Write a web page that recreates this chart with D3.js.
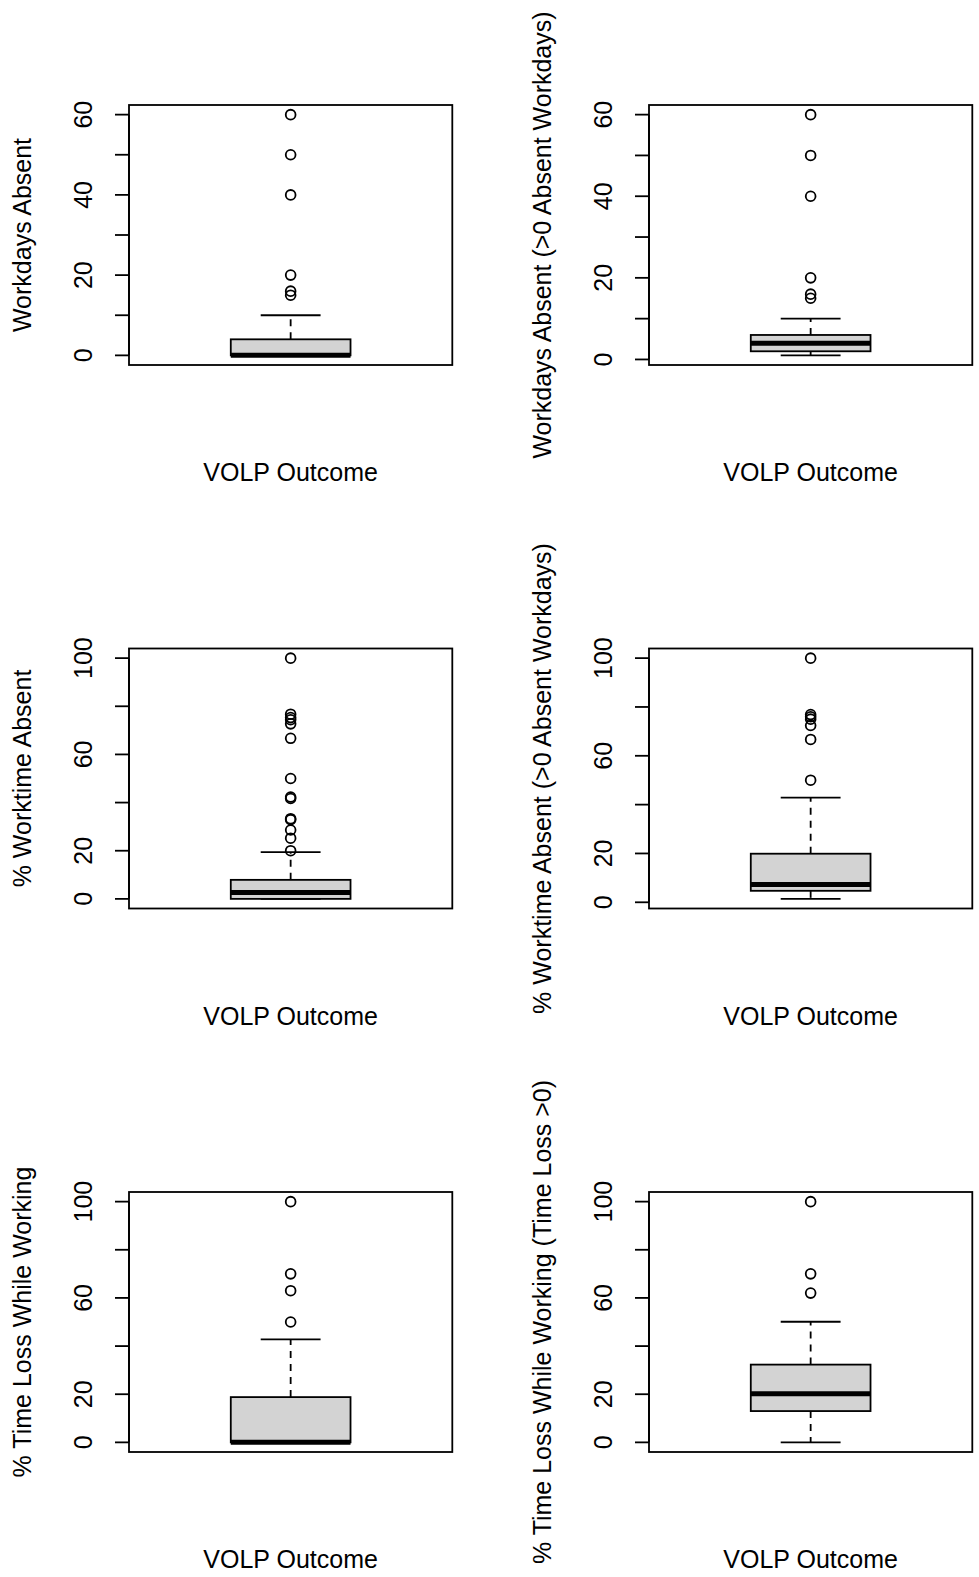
<!DOCTYPE html>
<html>
<head>
<meta charset="utf-8">
<script src="https://cdn.jsdelivr.net/npm/d3@7"></script>
<style>
  html, body { margin: 0; padding: 0; background: #fff; }
  svg { display: block; }
  text { font-family: "Liberation Sans", Arial, sans-serif; fill: #000; }
</style>
</head>
<body>
<svg id="chart" width="979" height="1577"></svg>
<script>
// Six single-box boxplots, laid out 3 rows x 2 columns (row-major).
const yTitles = [
  "Workdays Absent",
  "Workdays Absent (>0 Absent Workdays)",
  "% Worktime Absent",
  "% Worktime Absent (>0 Absent Workdays)",
  "% Time Loss While Working",
  "% Time Loss While Working (Time Loss >0)"
];
const xTitle = "VOLP Outcome";

// Box summaries per panel
const whiskerLow    = [0, 1, 0,   1.4,  0,    0];
const lowerQuartile = [0, 2, 0,   4.7,  0,    13];
const medianValue   = [0, 4, 2.6, 7.3,  0,    20.2];
const upperQuartile = [4, 6, 7.9, 19.9, 18.8, 32.3];
const whiskerHigh   = [10, 10, 19.4, 42.9, 42.8, 50.1];

// Points beyond the whiskers
const outliers = [
  [15, 16, 20, 40, 50, 60],
  [15, 16, 20, 40, 50, 60],
  [20, 25.2, 28.6, 32.9, 33.3, 41.7, 42.3, 50, 66.7, 72.7, 74.4, 75.3, 76.7, 100],
  [50, 66.7, 72.4, 75, 76, 76.9, 100],
  [50, 63, 70, 100],
  [62, 70, 100]
];

// Axis ticks and the subset that carries labels
const tickValues = [
  [0, 10, 20, 30, 40, 50, 60],
  [0, 10, 20, 30, 40, 50, 60],
  [0, 20, 40, 60, 80, 100],
  [0, 20, 40, 60, 80, 100],
  [0, 20, 40, 60, 80, 100],
  [0, 20, 40, 60, 80, 100]
];
const tickLabels = [
  [0, 20, 40, 60],
  [0, 20, 40, 60],
  [0, 20, 60, 100],
  [0, 20, 60, 100],
  [0, 20, 60, 100],
  [0, 20, 60, 100]
];

const svg = d3.select("#chart");
const FONT = 25;
const LW = 1.8;

const frameLeft0 = 129, frameW = 323.3, colStep = 520;
const frameTop0 = 105, frameH = 260, rowStep = 543.5;

yTitles.forEach((title, i) => {
  const col = i % 2, row = Math.floor(i / 2);
  const left = frameLeft0 + col * colStep;
  const top = frameTop0 + row * rowStep;
  const right = left + frameW, bottom = top + frameH;

  const lo = d3.min([whiskerLow[i], ...outliers[i]]);
  const hi = d3.max([whiskerHigh[i], ...outliers[i]]);
  const pad = (hi - lo) * 0.04;
  const y = d3.scaleLinear().domain([lo - pad, hi + pad]).range([bottom, top]);
  const x = d3.scaleLinear().domain([0.46, 1.54]).range([left, right]);

  const g = svg.append("g");

  // Box fill
  g.append("rect")
    .attr("x", x(0.8)).attr("width", x(1.2) - x(0.8))
    .attr("y", y(upperQuartile[i])).attr("height", y(lowerQuartile[i]) - y(upperQuartile[i]))
    .attr("fill", "#d3d3d3").attr("stroke", "#000").attr("stroke-width", LW);

  // Whiskers (dashed) and staples
  [[upperQuartile[i], whiskerHigh[i]], [lowerQuartile[i], whiskerLow[i]]].forEach(([a, b]) => {
    if (a !== b) {
      g.append("line")
        .attr("x1", x(1)).attr("x2", x(1))
        .attr("y1", y(a)).attr("y2", y(b))
        .attr("stroke", "#000").attr("stroke-width", LW)
        .attr("stroke-dasharray", "7,6");
    }
    g.append("line")
      .attr("x1", x(0.9)).attr("x2", x(1.1))
      .attr("y1", y(b)).attr("y2", y(b))
      .attr("stroke", "#000").attr("stroke-width", LW);
  });

  // Median
  g.append("line")
    .attr("x1", x(0.8)).attr("x2", x(1.2))
    .attr("y1", y(medianValue[i])).attr("y2", y(medianValue[i]))
    .attr("stroke", "#000").attr("stroke-width", 5);

  // Outliers
  g.selectAll("circle.out").data(outliers[i]).join("circle")
    .attr("class", "out")
    .attr("cx", x(1)).attr("cy", d => y(d)).attr("r", 4.9)
    .attr("fill", "none").attr("stroke", "#000").attr("stroke-width", LW);

  // Plot frame
  g.append("rect")
    .attr("x", left).attr("y", top).attr("width", frameW).attr("height", frameH)
    .attr("fill", "none").attr("stroke", "#000").attr("stroke-width", LW);

  // Y axis: ticks, axis line, rotated labels
  const ticks = tickValues[i];
  g.append("line")
    .attr("x1", left).attr("x2", left)
    .attr("y1", y(d3.min(ticks))).attr("y2", y(d3.max(ticks)))
    .attr("stroke", "#000").attr("stroke-width", LW);
  g.selectAll("line.tick").data(ticks).join("line")
    .attr("class", "tick")
    .attr("x1", left - 14).attr("x2", left)
    .attr("y1", d => y(d)).attr("y2", d => y(d))
    .attr("stroke", "#000").attr("stroke-width", LW);
  g.selectAll("text.tl").data(tickLabels[i]).join("text")
    .attr("class", "tl")
    .attr("transform", d => `translate(${left - 37},${y(d)}) rotate(-90)`)
    .attr("text-anchor", "middle")
    .style("font-size", FONT + "px")
    .text(d => d);

  // Axis titles
  g.append("text")
    .attr("transform", `translate(${left - 98},${(top + bottom) / 2}) rotate(-90)`)
    .attr("text-anchor", "middle")
    .style("font-size", FONT + "px")
    .text(title);
  g.append("text")
    .attr("x", (left + right) / 2).attr("y", bottom + 116)
    .attr("text-anchor", "middle")
    .style("font-size", FONT + "px")
    .text(xTitle);
});
</script>
</body>
</html>
